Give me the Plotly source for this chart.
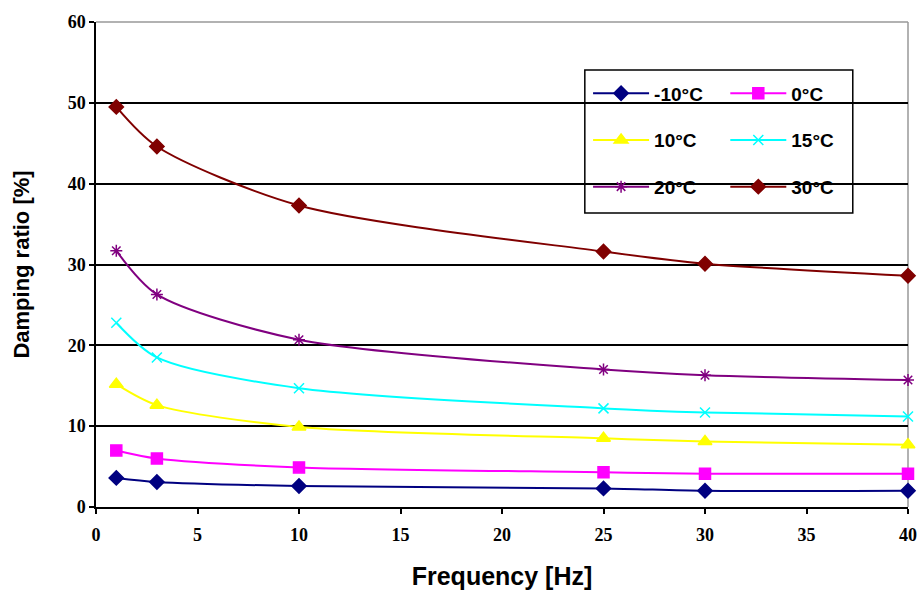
import plotly.graph_objects as go

freq = [1, 3, 10, 25, 30, 40]
series_names = ["-10°C", "0°C", "10°C", "15°C", "20°C", "30°C"]
d_m10 = [3.6, 3.1, 2.6, 2.3, 2.0, 2.0]
d_0 = [7.0, 6.0, 4.9, 4.3, 4.1, 4.1]
d_10 = [15.2, 12.6, 9.9, 8.5, 8.1, 7.7]
d_15 = [22.8, 18.5, 14.7, 12.2, 11.7, 11.2]
d_20 = [31.7, 26.3, 20.7, 17.0, 16.3, 15.7]
d_30 = [49.5, 44.6, 37.3, 31.6, 30.1, 28.6]
x_ticks = [0, 5, 10, 15, 20, 25, 30, 35, 40]
y_ticks = [0, 10, 20, 30, 40, 50, 60]

values = [d_m10, d_0, d_10, d_15, d_20, d_30]
colors = ["#000080", "#FF00FF", "#FFFF00", "#00FFFF", "#800080", "#800000"]
symbols = ["diamond", "square", "triangle-up", "x-thin-open", "asterisk-open", "diamond"]
sizes = [11, 11, 12, 10, 10, 11]
legends = ["legend", "legend2", "legend", "legend2", "legend", "legend2"]

fig = go.Figure()
for name, vals, c, s, sz, lg in zip(series_names, values, colors, symbols, sizes, legends):
    fig.add_trace(go.Scatter(
        x=freq, y=vals, name=name, mode="lines+markers",
        line=dict(color=c, width=2, shape="spline", smoothing=0.8),
        marker=dict(symbol=s, size=sz, color=c, line=dict(color=c, width=1.5)),
        legend=lg, legendgroup=name, cliponaxis=False,
    ))

legfont = dict(family="Liberation Sans, Arial", size=19, color="black", weight="bold")
common_leg = dict(font=legfont, bgcolor="rgba(0,0,0,0)", borderwidth=0,
                  tracegroupgap=19, itemwidth=56, xanchor="left", yanchor="top")
tickfont = dict(family="Liberation Serif, Times New Roman", size=18, color="black", weight="bold")

fig.update_layout(
    width=920, height=593,
    margin=dict(l=96, r=12, t=22, b=86),
    paper_bgcolor="white", plot_bgcolor="white",
    showlegend=True,
    legend=dict(x=0.606, y=0.892, **common_leg),
    legend2=dict(x=0.775, y=0.892, **common_leg),
    xaxis=dict(
        range=[0, 40], tickvals=x_ticks, ticktext=[str(v) for v in x_ticks],
        showgrid=False, zeroline=False, automargin=False,
        showline=True, linecolor="black", linewidth=1.5,
        ticks="outside", ticklen=5, tickcolor="black", tickwidth=1.5,
        ticklabelstandoff=6,
        tickfont=tickfont,
        title=dict(text="Frequency [Hz]", standoff=23,
                   font=dict(family="Liberation Sans, Arial", size=25, color="black", weight="bold")),
    ),
    yaxis=dict(
        range=[0, 60], tickvals=y_ticks, ticktext=[str(v) for v in y_ticks],
        showgrid=True, gridcolor="black", gridwidth=1.5, zeroline=False, automargin=False,
        showline=True, linecolor="black", linewidth=1.5,
        ticks="outside", ticklen=5, tickcolor="black", tickwidth=1.5,
        tickfont=tickfont,
        title=dict(text="Damping ratio [%]", standoff=32,
                   font=dict(family="Liberation Sans, Arial", size=22, color="black", weight="bold")),
    ),
    shapes=[
        dict(type="line", xref="paper", yref="paper", x0=0, x1=1, y0=1, y1=1,
             line=dict(color="#999999", width=1.5), layer="above"),
        dict(type="line", xref="paper", yref="paper", x0=1, x1=1, y0=0, y1=1,
             line=dict(color="#999999", width=1.5), layer="below"),
        dict(type="rect", xref="paper", yref="paper", x0=0.602, x1=0.932, y0=0.606, y1=0.901,
             line=dict(color="black", width=1.5), fillcolor="white", layer="below"),
    ],
)

fig.write_html("out.html", config={"displayModeBar": False},
               post_script="document.body.style.margin='0';")
